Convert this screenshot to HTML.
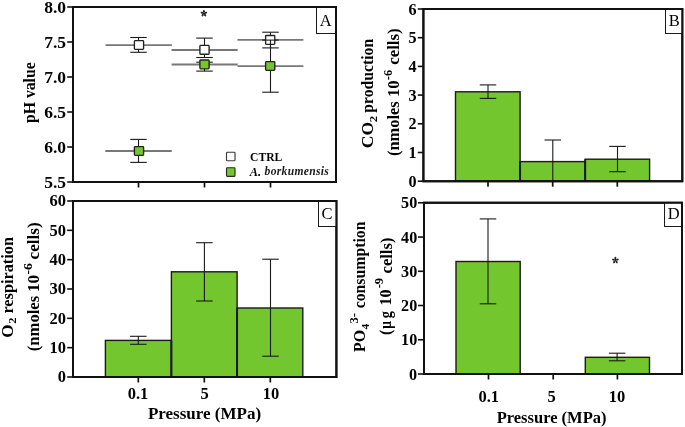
<!DOCTYPE html>
<html><head><meta charset="utf-8"><title>Figure</title>
<style>html,body{margin:0;padding:0;background:#fff;width:685px;height:427px;overflow:hidden}
body{position:relative;font-family:"Liberation Serif",serif}</style></head>
<body>
<svg width="685" height="427" viewBox="0 0 685 427" style="position:absolute;left:0;top:0;will-change:transform">
<g font-family='"Liberation Serif", serif' fill="#000">
<path d="M73,7H336V182H73Z" fill="none" stroke="#111" stroke-width="2" stroke-linejoin="miter"/>
<line x1="67.2" y1="182.0" x2="73" y2="182.0" stroke="#111" stroke-width="1.6"/>
<text x="66.0" y="187.8" font-size="17.5" font-weight="bold" font-style="normal" text-anchor="end" >5.5</text>
<line x1="67.2" y1="147.0" x2="73" y2="147.0" stroke="#111" stroke-width="1.6"/>
<text x="66.0" y="152.8" font-size="17.5" font-weight="bold" font-style="normal" text-anchor="end" >6.0</text>
<line x1="67.2" y1="112.0" x2="73" y2="112.0" stroke="#111" stroke-width="1.6"/>
<text x="66.0" y="117.8" font-size="17.5" font-weight="bold" font-style="normal" text-anchor="end" >6.5</text>
<line x1="67.2" y1="77.0" x2="73" y2="77.0" stroke="#111" stroke-width="1.6"/>
<text x="66.0" y="82.8" font-size="17.5" font-weight="bold" font-style="normal" text-anchor="end" >7.0</text>
<line x1="67.2" y1="42.0" x2="73" y2="42.0" stroke="#111" stroke-width="1.6"/>
<text x="66.0" y="47.8" font-size="17.5" font-weight="bold" font-style="normal" text-anchor="end" >7.5</text>
<line x1="67.2" y1="7.0" x2="73" y2="7.0" stroke="#111" stroke-width="1.6"/>
<text x="66.0" y="12.8" font-size="17.5" font-weight="bold" font-style="normal" text-anchor="end" >8.0</text>
<line x1="138.5" y1="182" x2="138.5" y2="187.5" stroke="#111" stroke-width="1.7"/>
<line x1="204.5" y1="182" x2="204.5" y2="187.5" stroke="#111" stroke-width="1.7"/>
<line x1="270.5" y1="182" x2="270.5" y2="187.5" stroke="#111" stroke-width="1.7"/>
<text transform="translate(34.60,123.02) rotate(-90) scale(0.9533,1)" font-size="16.5" font-weight="bold">pH value</text>
<rect x="316.5" y="7" width="19.5" height="26.5" fill="#fff" stroke="#1a1a1a" stroke-width="1"/>
<text x="325.6" y="25.8" font-size="16.5" font-weight="normal" font-style="normal" text-anchor="middle" >A</text>
<path d="M73,7H336V182H73Z" fill="none" stroke="#111" stroke-width="2" stroke-linejoin="miter"/>
<line x1="105.5" y1="45.1" x2="171.9" y2="45.1" stroke="#777" stroke-width="1.9"/>
<line x1="171.6" y1="50" x2="237.7" y2="50" stroke="#777" stroke-width="1.9"/>
<line x1="237.5" y1="39.9" x2="303.4" y2="39.9" stroke="#777" stroke-width="1.9"/>
<line x1="138.5" y1="37.5" x2="138.5" y2="52.3" stroke="#1a1a1a" stroke-width="1.1"/>
<line x1="130.25" y1="37.5" x2="146.75" y2="37.5" stroke="#1a1a1a" stroke-width="1.1"/>
<line x1="130.25" y1="52.3" x2="146.75" y2="52.3" stroke="#1a1a1a" stroke-width="1.1"/>
<line x1="204.5" y1="38.1" x2="204.5" y2="57.5" stroke="#1a1a1a" stroke-width="1.1"/>
<line x1="196.25" y1="38.1" x2="212.75" y2="38.1" stroke="#1a1a1a" stroke-width="1.1"/>
<line x1="196.25" y1="57.5" x2="212.75" y2="57.5" stroke="#1a1a1a" stroke-width="1.1"/>
<line x1="270.5" y1="32.2" x2="270.5" y2="47.9" stroke="#1a1a1a" stroke-width="1.1"/>
<line x1="262.25" y1="32.2" x2="278.75" y2="32.2" stroke="#1a1a1a" stroke-width="1.1"/>
<line x1="262.25" y1="47.9" x2="278.75" y2="47.9" stroke="#1a1a1a" stroke-width="1.1"/>
<rect x="134.4" y="40.6" width="9.2" height="8.8" rx="0.8" fill="#fff" stroke="#222" stroke-width="1.35"/>
<rect x="199.9" y="45.4" width="9.2" height="8.8" rx="0.8" fill="#fff" stroke="#222" stroke-width="1.35"/>
<rect x="265.59999999999997" y="35.5" width="9.2" height="8.8" rx="0.8" fill="#fff" stroke="#222" stroke-width="1.35"/>
<line x1="105.3" y1="151.0" x2="171.8" y2="151.0" stroke="#777" stroke-width="1.9"/>
<line x1="171.6" y1="64.5" x2="237.7" y2="64.5" stroke="#777" stroke-width="1.9"/>
<line x1="237.5" y1="66.1" x2="303.4" y2="66.1" stroke="#777" stroke-width="1.9"/>
<line x1="138.5" y1="139.4" x2="138.5" y2="162.4" stroke="#1a1a1a" stroke-width="1.1"/>
<line x1="130.25" y1="139.4" x2="146.75" y2="139.4" stroke="#1a1a1a" stroke-width="1.1"/>
<line x1="130.25" y1="162.4" x2="146.75" y2="162.4" stroke="#1a1a1a" stroke-width="1.1"/>
<line x1="204.5" y1="62.2" x2="204.5" y2="71.1" stroke="#1a1a1a" stroke-width="1.1"/>
<line x1="196.25" y1="62.2" x2="212.75" y2="62.2" stroke="#1a1a1a" stroke-width="1.1"/>
<line x1="196.25" y1="71.1" x2="212.75" y2="71.1" stroke="#1a1a1a" stroke-width="1.1"/>
<line x1="270.5" y1="40.1" x2="270.5" y2="92.2" stroke="#1a1a1a" stroke-width="1.1"/>
<line x1="262.25" y1="40.1" x2="278.75" y2="40.1" stroke="#1a1a1a" stroke-width="1.1"/>
<line x1="262.25" y1="92.2" x2="278.75" y2="92.2" stroke="#1a1a1a" stroke-width="1.1"/>
<rect x="134.4" y="146.6" width="9.2" height="8.8" rx="0.8" fill="#74c62e" stroke="#222" stroke-width="1.35"/>
<rect x="199.9" y="60.00000000000001" width="9.2" height="8.8" rx="0.8" fill="#74c62e" stroke="#222" stroke-width="1.35"/>
<rect x="265.59999999999997" y="61.6" width="9.2" height="8.8" rx="0.8" fill="#74c62e" stroke="#222" stroke-width="1.35"/>
<g><line x1="203.90" y1="13.40" x2="203.90" y2="11.15" stroke="#222" stroke-width="1.1"/><ellipse cx="203.90" cy="11.15" rx="1.2" ry="0.95" transform="rotate(-90.0 203.90 11.15)" fill="#222"/><line x1="203.90" y1="13.40" x2="206.04" y2="12.70" stroke="#222" stroke-width="1.1"/><ellipse cx="206.04" cy="12.70" rx="1.2" ry="0.95" transform="rotate(-18.0 206.04 12.70)" fill="#222"/><line x1="203.90" y1="13.40" x2="205.22" y2="15.22" stroke="#222" stroke-width="1.1"/><ellipse cx="205.22" cy="15.22" rx="1.2" ry="0.95" transform="rotate(54.0 205.22 15.22)" fill="#222"/><line x1="203.90" y1="13.40" x2="202.58" y2="15.22" stroke="#222" stroke-width="1.1"/><ellipse cx="202.58" cy="15.22" rx="1.2" ry="0.95" transform="rotate(126.0 202.58 15.22)" fill="#222"/><line x1="203.90" y1="13.40" x2="201.76" y2="12.70" stroke="#222" stroke-width="1.1"/><ellipse cx="201.76" cy="12.70" rx="1.2" ry="0.95" transform="rotate(198.0 201.76 12.70)" fill="#222"/></g>
<rect x="226.5" y="152.2" width="8.5" height="8.5" rx="0.8" fill="#fff" stroke="#3a3a3a" stroke-width="1.15"/>
<rect x="226.5" y="167.7" width="8.5" height="8.6" rx="0.8" fill="#74c62e" stroke="#2a2a2a" stroke-width="1.15"/>
<text x="250.1" y="161" font-size="11.6" font-weight="bold" font-style="normal" text-anchor="start" >CTRL</text>
<text x="249.7" y="175.6" font-size="12.3" font-weight="bold" font-style="italic" text-anchor="start" >A.</text>
<text x="264.6" y="175.4" font-size="11.6" font-weight="bold" font-style="italic" text-anchor="start" letter-spacing="0.3" fill="#1a1a1a">borkumensis</text>
<rect x="455.5" y="91.8" width="64.60000000000002" height="89.39999999999999" fill="#74c62e" stroke="#1b1b1b" stroke-width="1.4"/>
<rect x="520.1" y="161.6" width="65.10000000000002" height="19.599999999999994" fill="#74c62e" stroke="#1b1b1b" stroke-width="1.4"/>
<rect x="585.2" y="159.2" width="64.39999999999998" height="22.0" fill="#74c62e" stroke="#1b1b1b" stroke-width="1.4"/>
<line x1="520.1" y1="161.6" x2="520.1" y2="181.2" stroke="#1b1b1b" stroke-width="1.9"/>
<line x1="585.2" y1="159.2" x2="585.2" y2="181.2" stroke="#1b1b1b" stroke-width="1.9"/>
<line x1="488" y1="84.9" x2="488" y2="98.4" stroke="#1a1a1a" stroke-width="1.1"/>
<line x1="479.75" y1="84.9" x2="496.25" y2="84.9" stroke="#1a1a1a" stroke-width="1.1"/>
<line x1="479.75" y1="98.4" x2="496.25" y2="98.4" stroke="#1a1a1a" stroke-width="1.1"/>
<line x1="552.8" y1="140" x2="552.8" y2="181.2" stroke="#1a1a1a" stroke-width="1.1"/>
<line x1="544.55" y1="140" x2="561.05" y2="140" stroke="#1a1a1a" stroke-width="1.1"/>
<line x1="617.5" y1="146.4" x2="617.5" y2="171.7" stroke="#1a1a1a" stroke-width="1.1"/>
<line x1="609.25" y1="146.4" x2="625.75" y2="146.4" stroke="#1a1a1a" stroke-width="1.1"/>
<line x1="609.25" y1="171.7" x2="625.75" y2="171.7" stroke="#1a1a1a" stroke-width="1.1"/>
<path d="M423.4,9H682.3V181.2H423.4Z" fill="none" stroke="#111" stroke-width="2" stroke-linejoin="miter"/>
<line x1="417.8" y1="181.2" x2="423.4" y2="181.2" stroke="#111" stroke-width="1.6"/>
<text transform="translate(416.5,186.79999999999998) scale(0.95,1)" font-size="17" font-weight="bold" font-style="normal" text-anchor="end" >0</text>
<line x1="417.8" y1="152.5" x2="423.4" y2="152.5" stroke="#111" stroke-width="1.6"/>
<text transform="translate(416.5,158.1) scale(0.95,1)" font-size="17" font-weight="bold" font-style="normal" text-anchor="end" >1</text>
<line x1="417.8" y1="123.79999999999998" x2="423.4" y2="123.79999999999998" stroke="#111" stroke-width="1.6"/>
<text transform="translate(416.5,129.39999999999998) scale(0.95,1)" font-size="17" font-weight="bold" font-style="normal" text-anchor="end" >2</text>
<line x1="417.8" y1="95.1" x2="423.4" y2="95.1" stroke="#111" stroke-width="1.6"/>
<text transform="translate(416.5,100.69999999999999) scale(0.95,1)" font-size="17" font-weight="bold" font-style="normal" text-anchor="end" >3</text>
<line x1="417.8" y1="66.39999999999999" x2="423.4" y2="66.39999999999999" stroke="#111" stroke-width="1.6"/>
<text transform="translate(416.5,71.99999999999999) scale(0.95,1)" font-size="17" font-weight="bold" font-style="normal" text-anchor="end" >4</text>
<line x1="417.8" y1="37.69999999999999" x2="423.4" y2="37.69999999999999" stroke="#111" stroke-width="1.6"/>
<text transform="translate(416.5,43.29999999999999) scale(0.95,1)" font-size="17" font-weight="bold" font-style="normal" text-anchor="end" >5</text>
<line x1="417.8" y1="9.0" x2="423.4" y2="9.0" stroke="#111" stroke-width="1.6"/>
<text transform="translate(416.5,14.6) scale(0.95,1)" font-size="17" font-weight="bold" font-style="normal" text-anchor="end" >6</text>
<line x1="488" y1="181.2" x2="488" y2="186.7" stroke="#111" stroke-width="1.7"/>
<line x1="552.7" y1="181.2" x2="552.7" y2="186.7" stroke="#111" stroke-width="1.7"/>
<line x1="617.3" y1="181.2" x2="617.3" y2="186.7" stroke="#111" stroke-width="1.7"/>
<rect x="665.5" y="9" width="16.799999999999955" height="24.5" fill="#fff" stroke="#1a1a1a" stroke-width="1"/>
<text x="674.2" y="25.8" font-size="16.5" font-weight="normal" font-style="normal" text-anchor="middle" >B</text>
<path d="M423.4,9H682.3V181.2H423.4Z" fill="none" stroke="#111" stroke-width="2" stroke-linejoin="miter"/>
<text transform="translate(372.70,148.31) rotate(-90) scale(1.1027,1)" font-size="16" font-weight="bold">CO</text>
<text transform="translate(377.10,122.26) rotate(-90) scale(1.1641,1)" font-size="11" font-weight="bold">2</text>
<text transform="translate(372.70,112.63) rotate(-90) scale(0.9807,1)" font-size="16" font-weight="bold">production</text>
<text transform="translate(398.70,156.05) rotate(-90) scale(1.0261,1)" font-size="16" font-weight="bold">(nmoles</text>
<text transform="translate(398.70,97.10) rotate(-90) scale(1.0418,1)" font-size="16" font-weight="bold">10</text>
<text transform="translate(391.70,80.18) rotate(-90) scale(0.9796,1)" font-size="12.5" font-weight="bold">-6</text>
<text transform="translate(398.70,64.83) rotate(-90) scale(1.0565,1)" font-size="16" font-weight="bold">cells)</text>
<rect x="105.4" y="340.4" width="66.0" height="36.60000000000002" fill="#74c62e" stroke="#1b1b1b" stroke-width="1.4"/>
<rect x="171.4" y="271.8" width="65.69999999999999" height="105.19999999999999" fill="#74c62e" stroke="#1b1b1b" stroke-width="1.4"/>
<rect x="237.1" y="308" width="65.70000000000002" height="69" fill="#74c62e" stroke="#1b1b1b" stroke-width="1.4"/>
<line x1="171.4" y1="340.4" x2="171.4" y2="377" stroke="#1b1b1b" stroke-width="1.9"/>
<line x1="237.1" y1="308" x2="237.1" y2="377" stroke="#1b1b1b" stroke-width="1.9"/>
<line x1="138.3" y1="336.3" x2="138.3" y2="344.3" stroke="#1a1a1a" stroke-width="1.1"/>
<line x1="130.05" y1="336.3" x2="146.55" y2="336.3" stroke="#1a1a1a" stroke-width="1.1"/>
<line x1="130.05" y1="344.3" x2="146.55" y2="344.3" stroke="#1a1a1a" stroke-width="1.1"/>
<line x1="204.4" y1="242.7" x2="204.4" y2="301" stroke="#1a1a1a" stroke-width="1.1"/>
<line x1="196.15" y1="242.7" x2="212.65" y2="242.7" stroke="#1a1a1a" stroke-width="1.1"/>
<line x1="196.15" y1="301" x2="212.65" y2="301" stroke="#1a1a1a" stroke-width="1.1"/>
<line x1="270.5" y1="259.2" x2="270.5" y2="356.2" stroke="#1a1a1a" stroke-width="1.1"/>
<line x1="262.25" y1="259.2" x2="278.75" y2="259.2" stroke="#1a1a1a" stroke-width="1.1"/>
<line x1="262.25" y1="356.2" x2="278.75" y2="356.2" stroke="#1a1a1a" stroke-width="1.1"/>
<path d="M73,201H336.4V377H73Z" fill="none" stroke="#111" stroke-width="2" stroke-linejoin="miter"/>
<line x1="67.2" y1="377.0" x2="73" y2="377.0" stroke="#111" stroke-width="1.6"/>
<text transform="translate(65.9,382.3) scale(0.97,1)" font-size="17" font-weight="bold" font-style="normal" text-anchor="end" >0</text>
<line x1="67.2" y1="347.6666666666667" x2="73" y2="347.6666666666667" stroke="#111" stroke-width="1.6"/>
<text transform="translate(65.9,352.9666666666667) scale(0.97,1)" font-size="17" font-weight="bold" font-style="normal" text-anchor="end" >10</text>
<line x1="67.2" y1="318.3333333333333" x2="73" y2="318.3333333333333" stroke="#111" stroke-width="1.6"/>
<text transform="translate(65.9,323.6333333333333) scale(0.97,1)" font-size="17" font-weight="bold" font-style="normal" text-anchor="end" >20</text>
<line x1="67.2" y1="289.0" x2="73" y2="289.0" stroke="#111" stroke-width="1.6"/>
<text transform="translate(65.9,294.3) scale(0.97,1)" font-size="17" font-weight="bold" font-style="normal" text-anchor="end" >30</text>
<line x1="67.2" y1="259.6666666666667" x2="73" y2="259.6666666666667" stroke="#111" stroke-width="1.6"/>
<text transform="translate(65.9,264.9666666666667) scale(0.97,1)" font-size="17" font-weight="bold" font-style="normal" text-anchor="end" >40</text>
<line x1="67.2" y1="230.33333333333334" x2="73" y2="230.33333333333334" stroke="#111" stroke-width="1.6"/>
<text transform="translate(65.9,235.63333333333335) scale(0.97,1)" font-size="17" font-weight="bold" font-style="normal" text-anchor="end" >50</text>
<line x1="67.2" y1="201.0" x2="73" y2="201.0" stroke="#111" stroke-width="1.6"/>
<text transform="translate(65.9,206.3) scale(0.97,1)" font-size="17" font-weight="bold" font-style="normal" text-anchor="end" >60</text>
<line x1="138.3" y1="377" x2="138.3" y2="382.5" stroke="#111" stroke-width="1.7"/>
<line x1="204.3" y1="377" x2="204.3" y2="382.5" stroke="#111" stroke-width="1.7"/>
<line x1="270.3" y1="377" x2="270.3" y2="382.5" stroke="#111" stroke-width="1.7"/>
<rect x="318.5" y="201" width="17.899999999999977" height="25.5" fill="#fff" stroke="#1a1a1a" stroke-width="1"/>
<text x="327.1" y="218.6" font-size="16.5" font-weight="normal" font-style="normal" text-anchor="middle" >C</text>
<path d="M73,201H336.4V377H73Z" fill="none" stroke="#111" stroke-width="2" stroke-linejoin="miter"/>
<text x="138" y="399" font-size="16.5" font-weight="bold" font-style="normal" text-anchor="middle" >0.1</text>
<text x="204.5" y="399" font-size="16.5" font-weight="bold" font-style="normal" text-anchor="middle" >5</text>
<text x="271.1" y="399" font-size="16.5" font-weight="bold" font-style="normal" text-anchor="middle" >10</text>
<text x="204.5" y="419.2" font-size="17" font-weight="bold" font-style="normal" text-anchor="middle" >Pressure (MPa)</text>
<text transform="translate(13.10,337.78) rotate(-90) scale(1.0741,1)" font-size="16" font-weight="bold">O</text>
<text transform="translate(16.30,323.85) rotate(-90) scale(1.1421,1)" font-size="11" font-weight="bold">2</text>
<text transform="translate(13.10,313.60) rotate(-90) scale(1.0185,1)" font-size="16" font-weight="bold">respiration</text>
<text transform="translate(39.00,351.36) rotate(-90) scale(1.0434,1)" font-size="16" font-weight="bold">(nmoles</text>
<text transform="translate(39.00,292.04) rotate(-90) scale(1.0706,1)" font-size="16" font-weight="bold">10</text>
<text transform="translate(31.70,274.54) rotate(-90) scale(1.0697,1)" font-size="13" font-weight="bold">-6</text>
<text transform="translate(39.00,259.44) rotate(-90) scale(1.0715,1)" font-size="16" font-weight="bold">cells)</text>
<rect x="456" y="261.5" width="64.20000000000005" height="112.5" fill="#74c62e" stroke="#1b1b1b" stroke-width="1.4"/>
<rect x="585.3" y="357.3" width="64.20000000000005" height="16.69999999999999" fill="#74c62e" stroke="#1b1b1b" stroke-width="1.4"/>
<line x1="488" y1="218.9" x2="488" y2="303.8" stroke="#1a1a1a" stroke-width="1.1"/>
<line x1="479.75" y1="218.9" x2="496.25" y2="218.9" stroke="#1a1a1a" stroke-width="1.1"/>
<line x1="479.75" y1="303.8" x2="496.25" y2="303.8" stroke="#1a1a1a" stroke-width="1.1"/>
<line x1="617.1" y1="353.2" x2="617.1" y2="360.8" stroke="#1a1a1a" stroke-width="1.1"/>
<line x1="608.85" y1="353.2" x2="625.35" y2="353.2" stroke="#1a1a1a" stroke-width="1.1"/>
<line x1="608.85" y1="360.8" x2="625.35" y2="360.8" stroke="#1a1a1a" stroke-width="1.1"/>
<path d="M424,202.8H682V374H424Z" fill="none" stroke="#111" stroke-width="2" stroke-linejoin="miter"/>
<line x1="418" y1="374.0" x2="424" y2="374.0" stroke="#111" stroke-width="1.6"/>
<text transform="translate(417.2,379.6) scale(0.95,1)" font-size="17" font-weight="bold" font-style="normal" text-anchor="end" >0</text>
<line x1="418" y1="339.76" x2="424" y2="339.76" stroke="#111" stroke-width="1.6"/>
<text transform="translate(417.2,345.36) scale(0.95,1)" font-size="17" font-weight="bold" font-style="normal" text-anchor="end" >10</text>
<line x1="418" y1="305.52" x2="424" y2="305.52" stroke="#111" stroke-width="1.6"/>
<text transform="translate(417.2,311.12) scale(0.95,1)" font-size="17" font-weight="bold" font-style="normal" text-anchor="end" >20</text>
<line x1="418" y1="271.28000000000003" x2="424" y2="271.28000000000003" stroke="#111" stroke-width="1.6"/>
<text transform="translate(417.2,276.88000000000005) scale(0.95,1)" font-size="17" font-weight="bold" font-style="normal" text-anchor="end" >30</text>
<line x1="418" y1="237.04000000000002" x2="424" y2="237.04000000000002" stroke="#111" stroke-width="1.6"/>
<text transform="translate(417.2,242.64000000000001) scale(0.95,1)" font-size="17" font-weight="bold" font-style="normal" text-anchor="end" >40</text>
<line x1="418" y1="202.8" x2="424" y2="202.8" stroke="#111" stroke-width="1.6"/>
<text transform="translate(417.2,208.4) scale(0.95,1)" font-size="17" font-weight="bold" font-style="normal" text-anchor="end" >50</text>
<line x1="488.5" y1="374" x2="488.5" y2="379.5" stroke="#111" stroke-width="1.7"/>
<line x1="553.2" y1="374" x2="553.2" y2="379.5" stroke="#111" stroke-width="1.7"/>
<line x1="617.4" y1="374" x2="617.4" y2="379.5" stroke="#111" stroke-width="1.7"/>
<rect x="664.5" y="202.8" width="17.5" height="23.69999999999999" fill="#fff" stroke="#1a1a1a" stroke-width="1"/>
<text x="673.6" y="218.6" font-size="16.5" font-weight="normal" font-style="normal" text-anchor="middle" >D</text>
<path d="M424,202.8H682V374H424Z" fill="none" stroke="#111" stroke-width="2" stroke-linejoin="miter"/>
<g><line x1="615.40" y1="260.30" x2="615.40" y2="258.05" stroke="#222" stroke-width="1.1"/><ellipse cx="615.40" cy="258.05" rx="1.2" ry="0.95" transform="rotate(-90.0 615.40 258.05)" fill="#222"/><line x1="615.40" y1="260.30" x2="617.54" y2="259.60" stroke="#222" stroke-width="1.1"/><ellipse cx="617.54" cy="259.60" rx="1.2" ry="0.95" transform="rotate(-18.0 617.54 259.60)" fill="#222"/><line x1="615.40" y1="260.30" x2="616.72" y2="262.12" stroke="#222" stroke-width="1.1"/><ellipse cx="616.72" cy="262.12" rx="1.2" ry="0.95" transform="rotate(54.0 616.72 262.12)" fill="#222"/><line x1="615.40" y1="260.30" x2="614.08" y2="262.12" stroke="#222" stroke-width="1.1"/><ellipse cx="614.08" cy="262.12" rx="1.2" ry="0.95" transform="rotate(126.0 614.08 262.12)" fill="#222"/><line x1="615.40" y1="260.30" x2="613.26" y2="259.60" stroke="#222" stroke-width="1.1"/><ellipse cx="613.26" cy="259.60" rx="1.2" ry="0.95" transform="rotate(198.0 613.26 259.60)" fill="#222"/></g>
<text x="488.8" y="401.6" font-size="16.5" font-weight="bold" font-style="normal" text-anchor="middle" >0.1</text>
<text x="551.7" y="401.6" font-size="16.5" font-weight="bold" font-style="normal" text-anchor="middle" >5</text>
<text x="617" y="401.6" font-size="16.5" font-weight="bold" font-style="normal" text-anchor="middle" >10</text>
<text x="551.6" y="422.8" font-size="16.5" font-weight="bold" font-style="normal" text-anchor="middle" >Pressure (MPa)</text>
<text transform="translate(365.20,351.91) rotate(-90) scale(0.9965,1)" font-size="16" font-weight="bold">PO</text>
<text transform="translate(368.60,329.41) rotate(-90) scale(1.0216,1)" font-size="11" font-weight="bold">4</text>
<text transform="translate(358.30,323.61) rotate(-90) scale(1.0408,1)" font-size="12" font-weight="bold">3-</text>
<text transform="translate(365.20,308.29) rotate(-90) scale(0.9872,1)" font-size="16" font-weight="bold">consumption</text>
<text transform="translate(391.20,335.03) rotate(-90) scale(1.0000,1)" font-size="16" font-weight="bold">(</text>
<text transform="translate(391.20,328.68) rotate(-90) scale(0.8355,1)" font-size="16" font-weight="bold">µ</text>
<text transform="translate(391.20,318.16) rotate(-90) scale(0.8850,1)" font-size="16" font-weight="bold">g</text>
<text transform="translate(391.20,305.44) rotate(-90) scale(0.9987,1)" font-size="16" font-weight="bold">10</text>
<text transform="translate(383.40,288.30) rotate(-90) scale(1.0408,1)" font-size="12" font-weight="bold">-9</text>
<text transform="translate(391.50,273.42) rotate(-90) scale(1.0354,1)" font-size="16" font-weight="bold">cells)</text>
</g></svg>
</body></html>
